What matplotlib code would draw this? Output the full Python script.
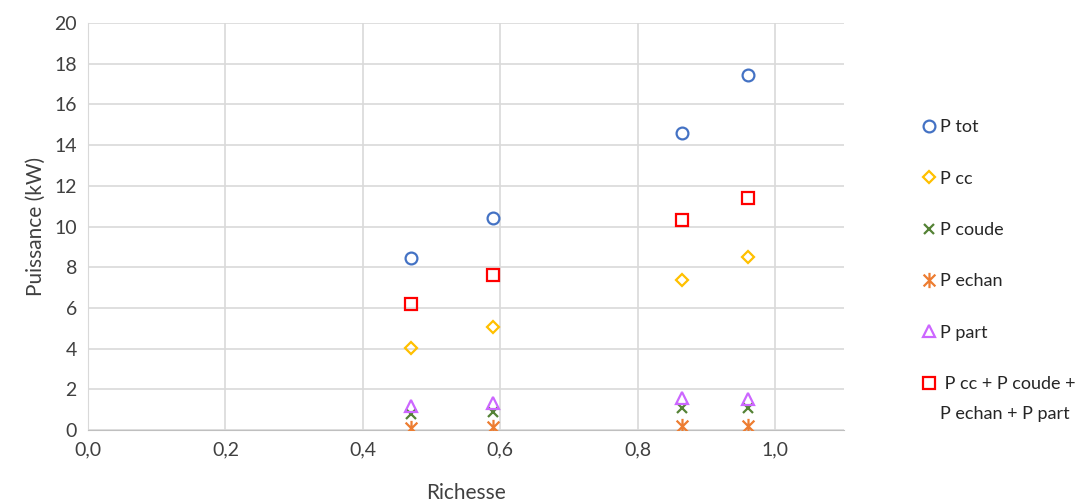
import matplotlib.pyplot as plt
from matplotlib.path import Path

# donnees
richesse = [0.47, 0.59, 0.865, 0.96]
p_tot = [8.45, 10.4, 14.6, 17.45]
p_cc = [4.05, 5.05, 7.35, 8.5]
p_coude = [0.8, 0.9, 1.1, 1.1]
p_echan = [0.1, 0.15, 0.2, 0.2]
p_part = [1.2, 1.35, 1.55, 1.5]
p_somme = [6.2, 7.6, 10.3, 11.4]

plt.rcParams['font.family'] = ['Lato', 'DejaVu Sans']

# marqueur etoile facon Excel (x + barre verticale)
etoile = Path([(-1, -1), (1, 1), (-1, 1), (1, -1), (0, -1.3), (0, 1.3)],
              [Path.MOVETO, Path.LINETO, Path.MOVETO, Path.LINETO, Path.MOVETO, Path.LINETO])

fig = plt.figure(figsize=(10.89, 5.04), dpi=100)
ax = fig.add_axes([88/1089, 1-430/504, (844-88)/1089, (430-23)/504])

ms = 8.5
mew = 1.6
ax.plot(richesse, p_tot, 'o', ms=ms, mfc='none', mec='#4472C4', mew=mew, label='P tot', zorder=3)
ax.plot(richesse, p_cc, 'D', ms=6.5, mfc='none', mec='#FFC000', mew=mew, label='P cc', zorder=3)
ax.plot(richesse, p_coude, 'x', ms=7, mec='#548235', mew=mew, label='P coude', zorder=3)
ax.plot(richesse, p_echan, ls='none', marker=etoile, ms=11, mfc='none', mec='#ED7D31', mew=mew, label='P echan', zorder=3)
ax.plot(richesse, p_part, '^', ms=ms, mfc='none', mec='#CC66FF', mew=mew, label='P part', zorder=3)
ax.plot(richesse, p_somme, 's', ms=ms, mfc='none', mec='#FF0000', mew=mew,
        label=' P cc + P coude +', zorder=3)

ax.set_xlim(0, 1.1)
ax.set_ylim(0, 20)
ax.set_xticks([0, 0.2, 0.4, 0.6, 0.8, 1.0])
ax.set_xticklabels(['0,0', '0,2', '0,4', '0,6', '0,8', '1,0'])
ax.set_yticks(range(0, 21, 2))
ax.grid(True, color='#D9D9D9', lw=1.2)
ax.set_axisbelow(True)
for s in ['top', 'right']:
    ax.spines[s].set_visible(False)
ax.spines['left'].set_color('#D9D9D9')
ax.spines['bottom'].set_color('#BFBFBF')
ax.tick_params(length=0, labelsize=14, colors='#404040', pad=8)
ax.set_xlabel('Richesse', fontsize=15, color='#404040', labelpad=18)
ax.set_ylabel('Puissance (kW)', fontsize=15, color='#404040', labelpad=6)

leg = fig.legend(loc='upper left', bbox_to_anchor=(903/1089, 1-103/504), frameon=False,
                 fontsize=13, labelspacing=1.96, handletextpad=0.05, handlelength=1.1,
                 labelcolor='#262626')

# deuxieme ligne de la derniere etiquette
fig.canvas.draw()
bb = leg.get_texts()[-1].get_window_extent()
fig.text(bb.x0 / 1089, (bb.y0 - 14) / 504, 'P echan + P part', fontsize=13,
         color='#262626', va='top', ha='left')

fig.savefig('out.png', dpi=100)
